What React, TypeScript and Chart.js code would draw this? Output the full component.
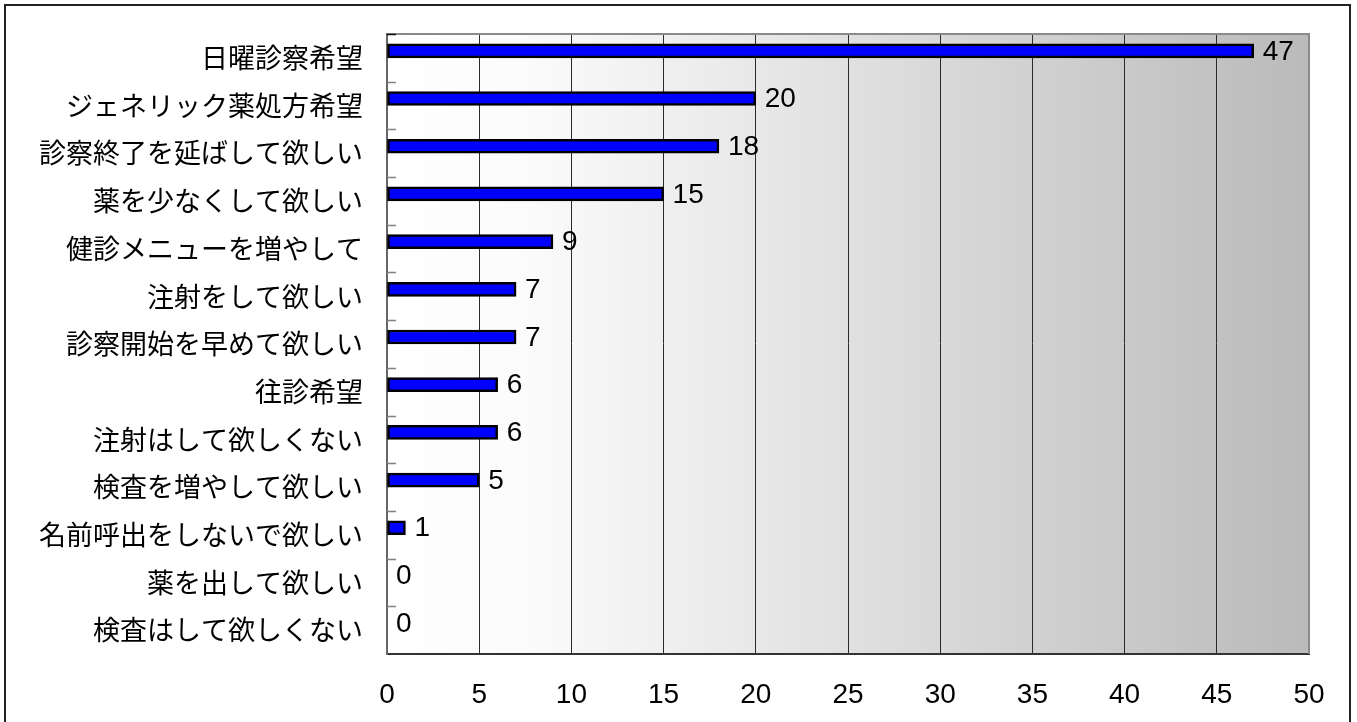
import React, { useEffect, useRef } from 'react';
import { Chart, registerables } from 'chart.js';

Chart.register(...registerables);

const categories: string[] = [
  '日曜診察希望',
  'ジェネリック薬処方希望',
  '診察終了を延ばして欲しい',
  '薬を少なくして欲しい',
  '健診メニューを増やして',
  '注射をして欲しい',
  '診察開始を早めて欲しい',
  '往診希望',
  '注射はして欲しくない',
  '検査を増やして欲しい',
  '名前呼出をしないで欲しい',
  '薬を出して欲しい',
  '検査はして欲しくない',
];
const counts: number[] = [47, 20, 18, 15, 9, 7, 7, 6, 6, 5, 1, 0, 0];
const spacerSeries: (number | null)[] = categories.map(() => null);
const xMin = 0;
const xMax = 50;
const xStep = 5;

const W = 1357;
const H = 722;

const numFont = '"Liberation Sans", Arial, sans-serif';
const jpFont = '"Noto Sans CJK JP", "Liberation Sans", sans-serif';

const backgroundPlugin = {
  id: 'bgFrame',
  beforeDraw(chart: any) {
    const { ctx, chartArea } = chart;
    ctx.save();
    ctx.fillStyle = '#ffffff';
    ctx.fillRect(0, 0, chart.width, chart.height);
    // outer border
    ctx.strokeStyle = '#222222';
    ctx.lineWidth = 2;
    ctx.strokeRect(5, 5, 1345, chart.height + 20);
    // plot gradient
    const g = ctx.createLinearGradient(chartArea.left, 0, chartArea.right, 0);
    g.addColorStop(0, '#ffffff');
    g.addColorStop(0.15, '#fbfbfb');
    g.addColorStop(1, '#bababa');
    ctx.fillStyle = g;
    ctx.fillRect(chartArea.left, chartArea.top, chartArea.right - chartArea.left, chartArea.bottom - chartArea.top);
    ctx.restore();
  },
  beforeDatasetsDraw(chart: any) {
    const { ctx, chartArea } = chart;
    const yScale = chart.scales.y;
    ctx.save();
    // top and right frame
    ctx.strokeStyle = '#8a8a8a';
    ctx.lineWidth = 2;
    ctx.beginPath();
    ctx.moveTo(chartArea.left, chartArea.top);
    ctx.lineTo(chartArea.right, chartArea.top);
    ctx.lineTo(chartArea.right, chartArea.bottom);
    ctx.stroke();
    // inside tick marks at category boundaries
    const n = categories.length;
    for (let i = 0; i < n; i++) {
      const y = i === 0
        ? chartArea.top
        : (yScale.getPixelForValue(i - 1) + yScale.getPixelForValue(i)) / 2;
      ctx.strokeStyle = i === 0 ? '#111111' : '#808080';
      ctx.lineWidth = 1.5;
      ctx.beginPath();
      ctx.moveTo(chartArea.left, Math.round(y) + 0.5);
      ctx.lineTo(chartArea.left + 9, Math.round(y) + 0.5);
      ctx.stroke();
    }
    ctx.restore();
  },
  afterDatasetsDraw(chart: any) {
    const { ctx } = chart;
    const meta = chart.getDatasetMeta(0);
    ctx.save();
    ctx.fillStyle = '#000000';
    ctx.font = `28px ${numFont}`;
    ctx.textAlign = 'left';
    ctx.textBaseline = 'middle';
    meta.data.forEach((el: any, i: number) => {
      const v = counts[i];
      ctx.fillText(String(v), el.x + 9, el.y + 1);
    });
    ctx.restore();
  },
};

export default function App() {
  const ref = useRef<HTMLCanvasElement | null>(null);

  useEffect(() => {
    const canvas = ref.current;
    if (!canvas) return;
    const chart = new Chart(canvas, {
      type: 'bar',
      data: {
        labels: categories,
        datasets: [
          {
            label: '件数',
            data: counts,
            backgroundColor: '#0000ff',
            borderColor: '#000000',
            borderWidth: 2.5,
            borderSkipped: false,
            barThickness: 14,
          },
          {
            label: '',
            data: spacerSeries,
            backgroundColor: 'rgba(0,0,0,0)',
            borderWidth: 0,
            barThickness: 14,
          },
        ],
      },
      options: {
        indexAxis: 'y',
        responsive: false,
        animation: false,
        maintainAspectRatio: false,
        layout: { padding: { top: 34, right: 48, bottom: 0, left: 0 } },
        plugins: {
          legend: { display: false },
          tooltip: { enabled: false },
          title: { display: false },
        },
        scales: {
          x: {
            type: 'linear',
            min: xMin,
            max: xMax,
            ticks: {
              stepSize: xStep,
              color: '#000000',
              padding: 24,
              font: { family: numFont, size: 28 },
              maxRotation: 0,
            },
            grid: {
              color: (c: any) => (c.tick && c.tick.value === xMax ? '#8a8a8a' : '#2a2a2a'),
              lineWidth: 1,
              drawTicks: false,
            },
            border: { display: true, color: '#333333', width: 2 },
            afterFit: (scale: any) => {
              scale.height = 68;
              scale.paddingLeft = 0;
              scale.paddingRight = 0;
            },
          },
          y: {
            type: 'category',
            ticks: {
              color: '#000000',
              padding: 24,
              font: { family: jpFont, size: 27 },
            },
            grid: { display: false, drawTicks: false },
            border: { display: true, color: '#666666', width: 2 },
            afterFit: (scale: any) => {
              scale.width = 387;
              scale.paddingTop = 0;
              scale.paddingBottom = 0;
            },
          },
        },
      },
      plugins: [backgroundPlugin],
    } as any);
    return () => chart.destroy();
  }, []);

  return (
    <div style={{ position: 'absolute', left: 0, top: 0, width: W, height: H, background: '#fff' }}>
      <canvas ref={ref} width={W} height={H} style={{ display: 'block', width: W, height: H }} />
    </div>
  );
}
